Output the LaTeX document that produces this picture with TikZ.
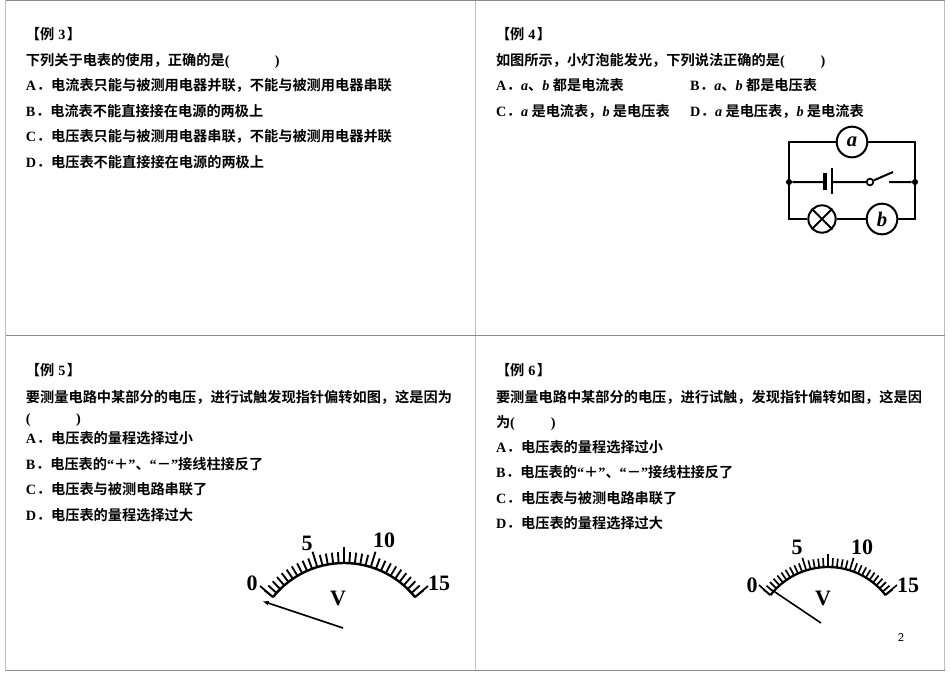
\documentclass[tikz,border=0pt]{standalone}
\usepackage{fontspec}
\usetikzlibrary{arrows.meta}
\setmainfont{Liberation Serif}
\newfontfamily\cjk{Noto Sans CJK SC}[BoldFont={* Bold}]
\newcommand{\zh}[1]{{\cjk\bfseries #1}}
\newcommand{\lt}[1]{{\bfseries #1}}
\newcommand{\emv}[1]{{\bfseries\itshape #1}}
\newcommand{\opt}[1]{\lt{#1}\hspace{0.5pt}\zh{．}}
\newcommand{\hd}[1]{\zh{【例}\hspace{3pt}\lt{#1}\hspace{1pt}\zh{】}}
\begin{document}
\begin{tikzpicture}[x=0.75pt,y=-0.75pt,
  line/.style={anchor=base west,inner sep=0,outer sep=0,font=\fontsize{10.65pt}{12pt}\selectfont},
  frameline/.style={draw=black!25,line width=1.4pt},
  hframe/.style={draw=black!45,line width=0.7pt},
  wire/.style={line width=1.5pt,black},
  meter/.style={circle,draw,line width=1.5pt,minimum size=23pt,inner sep=0,font=\bfseries\itshape\fontsize{15.5pt}{16pt}\selectfont},
  junction/.style={circle,fill=black,inner sep=0,minimum size=4.6pt},
  scale label/.style={inner sep=0,font=\bfseries\fontsize{16.5pt}{17pt}\selectfont},
  tickmark/.style={line width=1.4pt,black}]
\useasboundingbox (0,0) rectangle (950,672);
% frames
\draw[frameline] (5.5,0) -- (5.5,671);
\draw[frameline] (475.5,0) -- (475.5,671);
\draw[frameline] (944.5,0) -- (944.5,671);
\draw[hframe] (5.5,0.5) -- (944.5,0.5);
\draw[hframe] (5.5,335.5) -- (944.5,335.5);
\draw[hframe] (5.5,670.5) -- (944.5,670.5);
% Example 3
\node[line] (t3) at (26,39) {\hd{3}};
\node[line] (q3) at (26,65) {\zh{下列关于电表的使用，正确的是}\lt{(\hspace{34pt})}};
\node[line] (a3) at (26,90) {\opt{A}\zh{电流表只能与被测用电器并联，不能与被测用电器串联}};
\node[line] (b3) at (26,116) {\opt{B}\zh{电流表不能直接接在电源的两极上}};
\node[line] (c3) at (26,141) {\opt{C}\zh{电压表只能与被测用电器串联，不能与被测用电器并联}};
\node[line] (d3) at (26,167) {\opt{D}\zh{电压表不能直接接在电源的两极上}};
% Example 4
\node[line] (t4) at (496,39) {\hd{4}};
\node[line] (q4) at (496,65) {\zh{如图所示，小灯泡能发光，下列说法正确的是}\lt{(\hspace{27pt})}};
\node[line] (a4) at (496,90) {\opt{A}\emv{a}\zh{、}\emv{b}\hspace{2.5pt}\zh{都是电流表}};
\node[line] (b4) at (690,90) {\opt{B}\emv{a}\zh{、}\emv{b}\hspace{2.5pt}\zh{都是电压表}};
\node[line] (c4) at (496,116) {\opt{C}\emv{a}\hspace{2.5pt}\zh{是电流表，}\emv{b}\hspace{2.5pt}\zh{是电压表}};
\node[line] (d4) at (690,116) {\opt{D}\emv{a}\hspace{2.5pt}\zh{是电压表，}\emv{b}\hspace{2.5pt}\zh{是电流表}};
% Example 5
\node[line] (t5) at (26,375) {\hd{5}};
\node[line] (q5) at (26,402) {\zh{要测量电路中某部分的电压，进行试触发现指针偏转如图，这是因为}};
\node[line] (p5) at (26,423) {\lt{(\hspace{34pt})}};
\node[line] (a5) at (26,443) {\opt{A}\zh{电压表的量程选择过小}};
\node[line] (b5) at (26,469) {\opt{B}\zh{电压表的}\lt{“}\zh{＋}\lt{”}\zh{、}\lt{“}\zh{－}\lt{”}\zh{接线柱接反了}};
\node[line] (c5) at (26,494) {\opt{C}\zh{电压表与被测电路串联了}};
\node[line] (d5) at (26,520) {\opt{D}\zh{电压表的量程选择过大}};
% Example 6
\node[line] (t6) at (496,375) {\hd{6}};
\node[line] (q6) at (496,402) {\zh{要测量电路中某部分的电压，进行试触，发现指针偏转如图，这是因}};
\node[line] (p6) at (496,427) {\zh{为}\lt{(\hspace{27pt})}};
\node[line] (a6) at (496,452) {\opt{A}\zh{电压表的量程选择过小}};
\node[line] (b6) at (496,477) {\opt{B}\zh{电压表的}\lt{“}\zh{＋}\lt{”}\zh{、}\lt{“}\zh{－}\lt{”}\zh{接线柱接反了}};
\node[line] (c6) at (496,503) {\opt{C}\zh{电压表与被测电路串联了}};
\node[line] (d6) at (496,528) {\opt{D}\zh{电压表的量程选择过大}};
% Circuit
\coordinate (tl) at (789,142);
\coordinate (tr) at (915,142);
\coordinate (bl) at (789,219);
\coordinate (br) at (915,219);
\node[junction] (jl) at (789,182) {};
\node[junction] (jr) at (915,182) {};
\node[meter] (ma) at (852,142) {a};
\node[meter] (mb) at (882,219) {b};
\node[circle,draw,line width=1.5pt,minimum size=20.5pt,inner sep=0] (lamp) at (822,219) {};
\draw[wire] (lamp.45) -- (lamp.225) (lamp.135) -- (lamp.315);
\node[circle,draw,line width=1.3pt,fill=white,minimum size=5pt,inner sep=0] (sw) at (870,182) {};
\coordinate (pa) at (825,182);
\coordinate (pb) at (832,182);
\coordinate (blade) at (893,172);
\coordinate (contact) at (889,182);
\draw[wire] (jl) -- (tl) -- (ma) (ma) -- (tr) -- (jr);
\draw[wire] (jl) -- (bl) -- (lamp) (lamp) -- (mb) (mb) -- (br) -- (jr);
\draw[wire] (jl) -- (pa) (pb) -- (sw) (sw) -- (blade) (contact) -- (jr);
\draw[line width=2.6pt] (825,173) -- (825,190);
\draw[line width=1.4pt] (832,168) -- (832,194);
% Gauge 1
\begin{scope}[shift={(344,654)},y=0.75pt]
  \draw[line width=1.8pt] (141.3:91) arc[start angle=141.3,end angle=38.7,radius=91];
  \foreach \i in {0,...,30}{
    \pgfmathsetmacro{\ang}{141.3-\i*102.6/30}
    \pgfmathsetmacro{\ln}{(\i==15||\i==10||\i==20)?107:102}
    \draw[tickmark] (\ang:91) -- (\ang:\ln);
  }
\end{scope}
\coordinate (g1l) at (273,597);
\coordinate (g1le) at (260,586);
\coordinate (g1r) at (415,597);
\coordinate (g1re) at (428,586);
\draw[line width=1.3pt] (g1l) -- (g1le) (g1r) -- (g1re);
\node[scale label] (g1a) at (252,583) {0};
\node[scale label] (g1b) at (307,543) {5};
\node[scale label] (g1c) at (384,540) {10};
\node[scale label] (g1d) at (439,583) {15};
\node[scale label] (g1v) at (338,598) {V};
\coordinate (n1a) at (343,628);
\coordinate (n1b) at (262,601);
\draw[line width=1.2pt,-{Latex[length=5pt,width=3.5pt]}] (n1a) -- (n1b);
% Gauge 2
\begin{scope}[shift={(828,640)},y=0.75pt]
  \draw[line width=1.7pt] (142:73) arc[start angle=142,end angle=38,radius=73];
  \foreach \i in {0,...,30}{
    \pgfmathsetmacro{\ang}{142-\i*104/30}
    \pgfmathsetmacro{\ln}{(\i==15||\i==10||\i==20)?86:82}
    \draw[line width=1.25pt] (\ang:73) -- (\ang:\ln);
  }
\end{scope}
\coordinate (g2l) at (770,595);
\coordinate (g2le) at (759,585);
\coordinate (g2r) at (885,595);
\coordinate (g2re) at (897,585);
\draw[line width=1.2pt] (g2l) -- (g2le) (g2r) -- (g2re);
\node[scale label] (g2a) at (752,585) {0};
\node[scale label] (g2b) at (797,547) {5};
\node[scale label] (g2c) at (862,547) {10};
\node[scale label] (g2d) at (908,585) {15};
\node[scale label] (g2v) at (823,598) {V};
\coordinate (n2a) at (772,590);
\coordinate (n2b) at (821,623);
\draw[line width=1.2pt] (n2a) -- (n2b);
\node[inner sep=0,font=\sffamily\fontsize{9pt}{10pt}\selectfont] (pg) at (901,637) {2};
\end{tikzpicture}
\end{document}
